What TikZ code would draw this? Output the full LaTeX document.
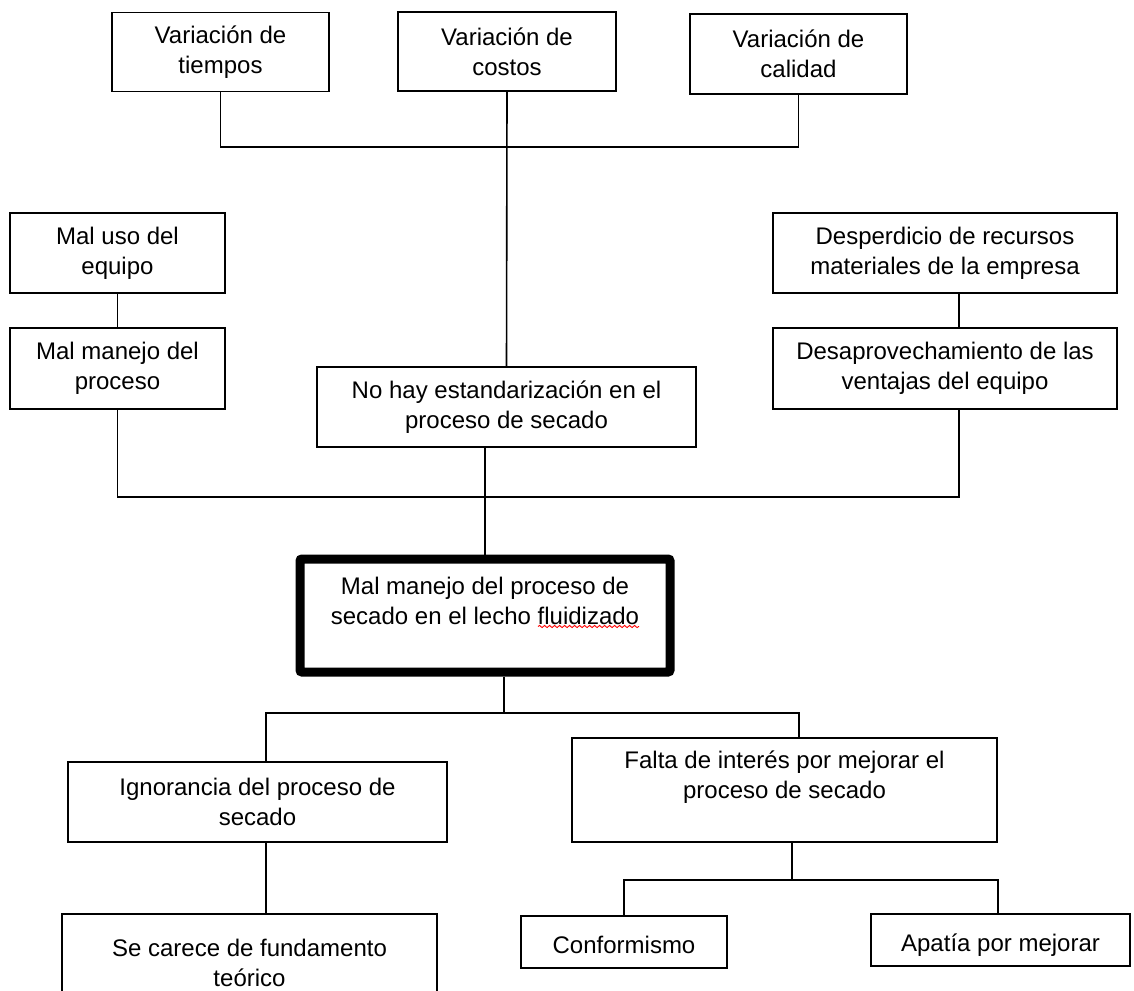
\documentclass[tikz,border=0pt]{standalone}
\usepackage{fontspec}
\setmainfont{Liberation Sans}
\usetikzlibrary{calc,decorations.pathmorphing}

\begin{document}
\begin{tikzpicture}[x=1pt,y=-1pt,line width=1.6pt,
	caja/.style={draw,rectangle,inner sep=0pt,align=center,font=\fontsize{24}{30}\selectfont},
	cajaBaja/.style={caja,text height=22pt,text depth=0pt},
	central/.style={caja,line width=9pt,rounded corners=2pt},
	ortografia/.style={red,line width=0.9pt,decorate,decoration={snake,amplitude=1.1pt,segment length=5pt}}]
	\useasboundingbox (0,0) rectangle (1134,990);
	%TOP BOXES
	\node[caja,minimum width=217pt,minimum height=79pt] (tiempos) at (220.5,52) {Variación de\\tiempos};
	\node[caja,minimum width=218pt,minimum height=79pt] (costos) at (507,51.5) {Variación de\\costos};
	\node[caja,minimum width=217pt,minimum height=80pt] (calidad) at (798.5,54) {Variación de\\calidad};
	%
	\node[caja,minimum width=215pt,minimum height=80pt] (usoEq) at (117.5,253) {Mal uso del\\equipo};
	\node[caja,minimum width=215pt,minimum height=81pt] (manejoProc) at (117.5,368.5) {Mal manejo del\\proceso};
	\node[caja,minimum width=379pt,minimum height=80pt] (estand) at (506.5,407) {No hay estandarización en el\\proceso de secado};
	\node[caja,minimum width=344pt,minimum height=80pt] (desperdicio) at (945,253) {Desperdicio de recursos\\materiales de la empresa};
	\node[caja,minimum width=344pt,minimum height=81pt] (desaprov) at (945,368.5) {Desaprovechamiento de las\\ventajas del equipo};
	
	%MAIN PROBLEM
	\node[central,minimum width=370pt,minimum height=113pt] (problema) at (485,615.5) {Mal manejo del proceso de\\secado en el lecho fluidizado\\~};
	\draw[ortografia] ([shift={(53,11)}]problema.center) -- ([shift={(154,11)}]problema.center);
	
	%LOWER BOXES
	\node[caja,minimum width=379pt,minimum height=80pt] (ignorancia) at (257.5,802) {Ignorancia del proceso de\\secado};
	\node[caja,minimum width=425pt,minimum height=104pt] (falta) at (784.5,790) {Falta de interés por mejorar el\\proceso de secado\\~};
	\node[caja,minimum width=375pt,minimum height=98pt] (carece) at (249.5,963) {Se carece de fundamento\\teórico};
	\node[cajaBaja,minimum width=206pt,minimum height=52pt] (conformismo) at (624,942) {Conformismo};
	\node[cajaBaja,minimum width=259pt,minimum height=52pt] (apatia) at (1000.5,940) {Apatía por mejorar};
	
	%LINES
	\coordinate (barraSup) at (0,147);
	\coordinate (barraMed) at (0,497);
	\coordinate (barraInf) at (0,713);
	\coordinate (barraFin) at (0,880);
	\coordinate (dsp) at ([xshift=14pt]desperdicio.south);
	\coordinate (pb) at ([xshift=19pt]problema.south);
	\coordinate (ig) at ([xshift=8.5pt]ignorancia.north);
	\coordinate (igb) at ([xshift=8.5pt]ignorancia.south);
	\coordinate (fl) at ([xshift=14.5pt]falta.north);
	\coordinate (flb) at ([xshift=7.5pt]falta.south);
	%
	\draw (tiempos.south) |- (barraSup -| calidad.south) -- (calidad.south);
	\draw (costos.south) -- (estand.north);
	\draw (usoEq) -- (manejoProc);
	\draw (dsp) -- (dsp |- desaprov.north);
	\draw (manejoProc.south) |- (dsp |- barraMed) -- (dsp |- desaprov.south);
	\draw (problema.north) -- (problema.north |- estand.south);
	\draw (pb) -- (pb |- barraInf);
	\draw (ig) |- (fl |- barraInf) -- (fl);
	\draw (igb) -- (igb |- carece.north);
	\draw (flb) -- (flb |- barraFin);
	\draw (conformismo.north) |- ([xshift=-2.5pt]apatia.north |- barraFin) -- ([xshift=-2.5pt]apatia.north);
\end{tikzpicture}
\end{document}
